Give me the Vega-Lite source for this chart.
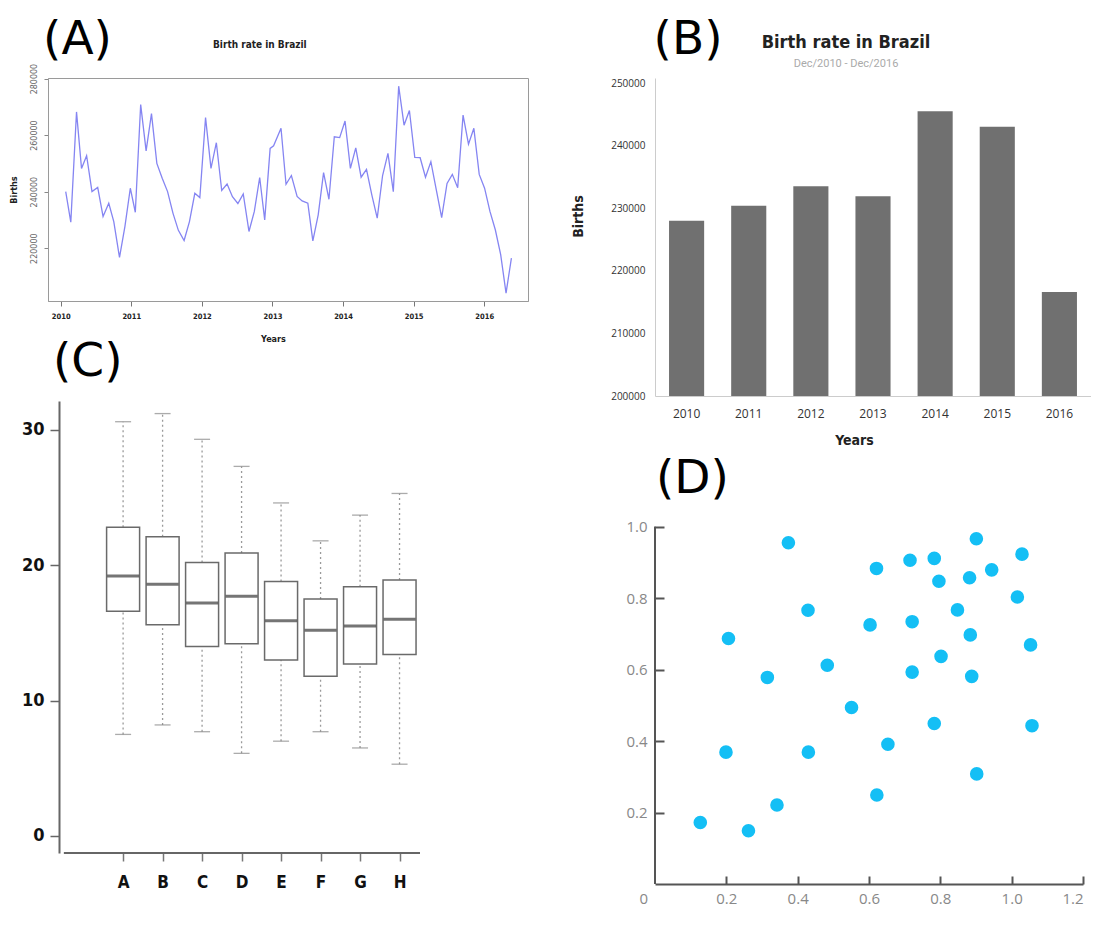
{
  "$schema": "https://vega.github.io/schema/vega-lite/v6.json",
  "background": "white",
  "autosize": {"type": "pad"},
  "padding": {"left": 8, "top": 15, "right": 0, "bottom": 0},
  "config": {"font": "DejaVu Sans", "view": {"stroke": null}},
  "datasets": {
    "birthsMonthly": [
      {"t": 2010.071, "births": 240000}, {"t": 2010.143, "births": 229200}, {"t": 2010.224, "births": 268200},
      {"t": 2010.295, "births": 248200}, {"t": 2010.367, "births": 252700}, {"t": 2010.443, "births": 240000},
      {"t": 2010.524, "births": 241500}, {"t": 2010.6, "births": 231200}, {"t": 2010.681, "births": 235900},
      {"t": 2010.752, "births": 229400}, {"t": 2010.833, "births": 216700}, {"t": 2010.91, "births": 227700},
      {"t": 2010.986, "births": 241200}, {"t": 2011.057, "births": 232700}, {"t": 2011.133, "births": 270800},
      {"t": 2011.21, "births": 254400}, {"t": 2011.286, "births": 267600}, {"t": 2011.362, "births": 250000},
      {"t": 2011.438, "births": 244700}, {"t": 2011.514, "births": 240000}, {"t": 2011.59, "births": 232400},
      {"t": 2011.667, "births": 226300}, {"t": 2011.748, "births": 222700}, {"t": 2011.824, "births": 229400},
      {"t": 2011.9, "births": 239400}, {"t": 2011.971, "births": 237900}, {"t": 2012.052, "births": 266200},
      {"t": 2012.129, "births": 248200}, {"t": 2012.205, "births": 257300}, {"t": 2012.281, "births": 240400},
      {"t": 2012.357, "births": 242700}, {"t": 2012.433, "births": 238200}, {"t": 2012.51, "births": 235800},
      {"t": 2012.586, "births": 239200}, {"t": 2012.667, "births": 225900}, {"t": 2012.743, "births": 233000},
      {"t": 2012.819, "births": 245000}, {"t": 2012.89, "births": 230000}, {"t": 2012.967, "births": 255300},
      {"t": 2013.016, "births": 256200}, {"t": 2013.121, "births": 262400}, {"t": 2013.192, "births": 242600},
      {"t": 2013.268, "births": 245700}, {"t": 2013.349, "births": 238300}, {"t": 2013.42, "births": 236700},
      {"t": 2013.501, "births": 235900}, {"t": 2013.572, "births": 222600}, {"t": 2013.648, "births": 231800},
      {"t": 2013.724, "births": 246700}, {"t": 2013.8, "births": 237300}, {"t": 2013.876, "births": 259400},
      {"t": 2013.952, "births": 259100}, {"t": 2014.028, "births": 265000}, {"t": 2014.104, "births": 248200},
      {"t": 2014.18, "births": 255500}, {"t": 2014.256, "births": 245100}, {"t": 2014.332, "births": 247900},
      {"t": 2014.408, "births": 238800}, {"t": 2014.484, "births": 230600}, {"t": 2014.56, "births": 245700},
      {"t": 2014.636, "births": 253500}, {"t": 2014.712, "births": 240000}, {"t": 2014.788, "births": 277300},
      {"t": 2014.864, "births": 263500}, {"t": 2014.94, "births": 268700}, {"t": 2015.016, "births": 252100},
      {"t": 2015.092, "births": 252000}, {"t": 2015.168, "births": 245100}, {"t": 2015.244, "births": 250600},
      {"t": 2015.321, "births": 240600}, {"t": 2015.397, "births": 230800}, {"t": 2015.473, "births": 242900},
      {"t": 2015.548, "births": 246100}, {"t": 2015.624, "births": 241400}, {"t": 2015.7, "births": 267100},
      {"t": 2015.777, "births": 256800}, {"t": 2015.853, "births": 262400}, {"t": 2015.929, "births": 246100},
      {"t": 2016.005, "births": 241200}, {"t": 2016.081, "births": 233000}, {"t": 2016.157, "births": 226500},
      {"t": 2016.233, "births": 217700}, {"t": 2016.309, "births": 204100}, {"t": 2016.385, "births": 216500}
    ],
    "birthsYearly": [
      {"year": "2010", "births": 228000}, {"year": "2011", "births": 230400}, {"year": "2012", "births": 233500},
      {"year": "2013", "births": 231900}, {"year": "2014", "births": 245500}, {"year": "2015", "births": 243000},
      {"year": "2016", "births": 216600}
    ],
    "boxStats": [
      {"group": "A", "idx": 1, "lower": 7.5, "q1": 16.6, "median": 19.2, "q3": 22.8, "upper": 30.6},
      {"group": "B", "idx": 2, "lower": 8.2, "q1": 15.6, "median": 18.6, "q3": 22.1, "upper": 31.2},
      {"group": "C", "idx": 3, "lower": 7.7, "q1": 14.0, "median": 17.2, "q3": 20.2, "upper": 29.3},
      {"group": "D", "idx": 4, "lower": 6.1, "q1": 14.2, "median": 17.7, "q3": 20.9, "upper": 27.3},
      {"group": "E", "idx": 5, "lower": 7.0, "q1": 13.0, "median": 15.9, "q3": 18.8, "upper": 24.6},
      {"group": "F", "idx": 6, "lower": 7.7, "q1": 11.8, "median": 15.2, "q3": 17.5, "upper": 21.8},
      {"group": "G", "idx": 7, "lower": 6.5, "q1": 12.7, "median": 15.5, "q3": 18.4, "upper": 23.7},
      {"group": "H", "idx": 8, "lower": 5.3, "q1": 13.4, "median": 16.0, "q3": 18.9, "upper": 25.3}
    ],
    "scatter": [
      {"x": 0.374, "y": 0.955}, {"x": 0.621, "y": 0.883}, {"x": 0.715, "y": 0.906}, {"x": 0.783, "y": 0.911},
      {"x": 0.901, "y": 0.966}, {"x": 1.029, "y": 0.923}, {"x": 0.944, "y": 0.879}, {"x": 0.882, "y": 0.857},
      {"x": 0.796, "y": 0.847}, {"x": 1.016, "y": 0.803}, {"x": 0.429, "y": 0.766}, {"x": 0.848, "y": 0.767},
      {"x": 0.603, "y": 0.725}, {"x": 0.721, "y": 0.734}, {"x": 0.206, "y": 0.687}, {"x": 0.884, "y": 0.697},
      {"x": 1.053, "y": 0.669}, {"x": 0.483, "y": 0.612}, {"x": 0.802, "y": 0.637}, {"x": 0.315, "y": 0.578},
      {"x": 0.721, "y": 0.593}, {"x": 0.888, "y": 0.581}, {"x": 0.551, "y": 0.494}, {"x": 0.783, "y": 0.449},
      {"x": 1.057, "y": 0.443}, {"x": 0.199, "y": 0.369}, {"x": 0.43, "y": 0.369}, {"x": 0.653, "y": 0.391},
      {"x": 0.902, "y": 0.308}, {"x": 0.622, "y": 0.249}, {"x": 0.342, "y": 0.221}, {"x": 0.127, "y": 0.172},
      {"x": 0.262, "y": 0.149}
    ]
  },
  "bounds": "flush",
  "align": "each",
  "columns": 2,
  "spacing": {"row": 5, "column": 127},
  "concat": [
    {
      "width": 480,
      "height": 223,
      "view": {"stroke": "#9a9a9a", "strokeWidth": 1},
      "title": {"text": "Birth rate in Brazil", "anchor": "start", "frame": "group", "dx": 165, "font": "DejaVu Sans Condensed", "fontSize": 10, "fontWeight": "bold", "color": "#222", "offset": -34},
      "layer": [
        {
          "data": {"name": "birthsMonthly"},
          "mark": {"type": "line", "color": "#8585f2", "strokeWidth": 1.3},
          "encoding": {
            "x": {
              "field": "t", "type": "quantitative",
              "scale": {"domain": [2009.82, 2016.62], "nice": false, "zero": false},
              "axis": {
                "values": [2010, 2011, 2012, 2013, 2014, 2015, 2016], "format": "d", "grid": false,
                "title": "Years", "titleFont": "DejaVu Sans Condensed", "titleFontSize": 9, "titleFontWeight": "bold", "titleColor": "#222", "titlePadding": 15, "titleX": 225,
                "labelFont": "DejaVu Sans Condensed", "labelFontWeight": "bold", "labelFontSize": 7.5, "labelColor": "#222", "labelPadding": 6,
                "tickSize": 5, "tickColor": "#777", "domainColor": "#9a9a9a"
              }
            },
            "y": {
              "field": "births", "type": "quantitative",
              "scale": {"domain": [201300, 280200], "nice": false, "zero": false},
              "axis": {
                "values": [220000, 240000, 260000, 280000], "format": "d", "grid": false,
                "labelAngle": -90, "labelAlign": "center", "labelBaseline": "bottom", "labelFontSize": 8, "labelColor": "#666", "labelPadding": 6,
                "tickSize": 4, "tickColor": "#888", "domainColor": "#9a9a9a",
                "title": "Births", "titleFont": "DejaVu Sans Condensed", "titleFontSize": 9, "titleFontWeight": "bold", "titleColor": "#222", "titlePadding": 12
              }
            }
          }
        },
        {
          "data": {"values": [{"panel": "(A)"}]},
          "mark": {"type": "text", "font": "DejaVu Sans", "fontSize": 47, "color": "#000", "align": "left", "baseline": "alphabetic"},
          "encoding": {
            "text": {"field": "panel"},
            "x": {"datum": 2009.75},
            "y": {"datum": 288700}
          }
        }
      ]
    },
    {
      "width": 436,
      "height": 318,
      "title": {
        "text": "Birth rate in Brazil", "subtitle": "Dec/2010 - Dec/2016",
        "anchor": "middle", "frame": "group", "dx": -27, "offset": -53,
        "font": "DejaVu Sans Condensed", "fontSize": 18, "fontWeight": "bold", "color": "#222",
        "subtitleFont": "Roboto", "subtitleFontSize": 11, "subtitleColor": "#aaa", "subtitlePadding": 6
      },
      "layer": [
        {
          "data": {"name": "birthsYearly"},
          "mark": {"type": "bar", "color": "#707070"},
          "encoding": {
            "x": {
              "field": "year", "type": "ordinal",
              "scale": {"paddingInner": 0.435, "paddingOuter": 0.226},
              "axis": {
                "labelAngle": 0, "ticks": false, "domainColor": "#cccccc",
                "labelFont": "Open Sans", "labelFontSize": 12, "labelColor": "#333", "labelPadding": 12,
                "title": "Years", "titleFont": "DejaVu Sans Condensed", "titleFontSize": 14, "titleFontWeight": "bold", "titleColor": "#222", "titlePadding": 14, "titleX": 199
              }
            },
            "y": {
              "field": "births", "type": "quantitative",
              "scale": {"domain": [200000, 250800], "nice": false, "zero": false},
              "axis": {
                "values": [200000, 210000, 220000, 230000, 240000, 250000], "format": "d",
                "ticks": false, "grid": false, "domainColor": "#cccccc",
                "labelFont": "Open Sans", "labelFontSize": 10, "labelColor": "#333", "labelPadding": 10,
                "title": "Births", "titleFont": "DejaVu Sans Condensed", "titleFontSize": 14, "titleFontWeight": "bold", "titleColor": "#222", "titlePadding": 25, "titleY": 138
              }
            },
            "y2": {"datum": 200000}
          }
        },
        {
          "data": {"values": [{"panel": "(B)"}]},
          "mark": {"type": "text", "font": "DejaVu Sans", "fontSize": 47, "color": "#000", "align": "left", "baseline": "alphabetic", "dx": -33},
          "encoding": {
            "text": {"field": "panel"},
            "x": {"datum": "2010"},
            "y": {"datum": 254634}
          }
        }
      ]
    },
    {
      "width": 377,
      "height": 452,
      "layer": [
        {
          "data": {"name": "boxStats"},
          "encoding": {
            "x": {
              "field": "idx", "type": "quantitative",
              "scale": {"domain": [-0.775, 8.518], "nice": false, "zero": false},
              "axis": {
                "values": [1, 2, 3, 4, 5, 6, 7, 8],
                "labelExpr": "['', 'A', 'B', 'C', 'D', 'E', 'F', 'G', 'H'][datum.value]",
                "domain": false, "grid": false, "title": null,
                "tickSize": 8, "tickColor": "#777", "tickWidth": 1.5,
                "labelFont": "DejaVu Sans Condensed", "labelFontWeight": "bold", "labelFontSize": 17, "labelColor": "#111", "labelPadding": 13
              }
            }
          },
          "layer": [
            {
              "mark": {"type": "rule", "color": "#9a9a9a", "strokeDash": [2, 3], "strokeWidth": 1.3},
              "encoding": {
                "y": {"field": "lower", "type": "quantitative", "scale": {"domain": [-1.26, 32.13], "nice": false, "zero": false},
                  "axis": {
                    "values": [0, 10, 20, 30], "grid": false, "title": null, "offset": -11,
                    "tickSize": 9, "tickColor": "#666", "tickWidth": 1.5, "domainColor": "#666", "domainWidth": 2,
                    "labelFont": "DejaVu Sans Condensed", "labelFontWeight": "bold", "labelFontSize": 18, "labelColor": "#111", "labelPadding": 6
                  }
                },
                "y2": {"field": "q1"}
              }
            },
            {
              "mark": {"type": "rule", "color": "#9a9a9a", "strokeDash": [2, 3], "strokeWidth": 1.3},
              "encoding": {"y": {"field": "q3", "type": "quantitative"}, "y2": {"field": "upper"}}
            },
            {
              "mark": {"type": "tick", "orient": "horizontal", "size": 16, "thickness": 1.3, "color": "#888"},
              "encoding": {"y": {"field": "lower", "type": "quantitative"}}
            },
            {
              "mark": {"type": "tick", "orient": "horizontal", "size": 16, "thickness": 1.3, "color": "#888"},
              "encoding": {"y": {"field": "upper", "type": "quantitative"}}
            },
            {
              "mark": {"type": "bar", "orient": "vertical", "size": 33, "fill": "white", "stroke": "#6a6a6a", "strokeWidth": 1.5},
              "encoding": {"y": {"field": "q1", "type": "quantitative"}, "y2": {"field": "q3"}}
            },
            {
              "mark": {"type": "tick", "orient": "horizontal", "size": 32, "thickness": 3, "color": "#3a3a3a"},
              "encoding": {"y": {"field": "median", "type": "quantitative"}}
            }
          ]
        },
        {
          "data": {"values": [{}]},
          "mark": {"type": "rule", "color": "#666", "strokeWidth": 2},
          "encoding": {"x": {"datum": -0.5}, "x2": {"datum": 8.518}, "y": {"datum": -1.26}}
        },
        {
          "data": {"values": [{"panel": "(C)"}]},
          "mark": {"type": "text", "font": "DejaVu Sans", "fontSize": 47, "color": "#000", "align": "left", "baseline": "alphabetic"},
          "encoding": {
            "text": {"field": "panel"},
            "x": {"datum": -0.775},
            "y": {"datum": 33.98}
          }
        }
      ]
    },
    {
      "width": 428,
      "height": 483,
      "layer": [
        {
          "data": {"name": "scatter"},
          "mark": {"type": "circle", "size": 185, "color": "#14bff5", "opacity": 1},
          "encoding": {
            "x": {
              "field": "x", "type": "quantitative",
              "scale": {"domain": [0, 1.2], "nice": false, "zero": false},
              "axis": {
                "values": [0, 0.2, 0.4, 0.6, 0.8, 1.0, 1.2],
                "labelExpr": "datum.value == 0 ? '0' : format(datum.value, '.1f')",
                "grid": false, "title": null,
                "domainColor": "#555", "domainWidth": 2,
                "tickColor": "#555", "tickWidth": 2, "tickSize": -8,
                "tickOpacity": {"condition": {"test": "datum.value == 0", "value": 0}, "value": 1},
                "labelOffset": {"condition": {"test": "datum.value == 0", "value": -16}, "value": 0},
                "labelFont": "Open Sans", "labelFontSize": 15, "labelColor": "#888", "labelPadding": 15
              }
            },
            "y": {
              "field": "y", "type": "quantitative",
              "scale": {"domain": [0, 1.3515], "nice": false, "zero": false},
              "axis": {
                "values": [0.2, 0.4, 0.6, 0.8, 1.0], "format": ".1f",
                "grid": false, "title": null, "domain": false,
                "tickColor": "#555", "tickWidth": 2, "tickSize": -9,
                "labelFont": "Open Sans", "labelFontSize": 15, "labelColor": "#888", "labelPadding": 17
              }
            }
          }
        },
        {
          "data": {"values": [{}]},
          "mark": {"type": "rule", "color": "#555", "strokeWidth": 2},
          "encoding": {"x": {"datum": 0}, "y": {"datum": 0}, "y2": {"datum": 1.0}}
        },
        {
          "data": {"values": [{"panel": "(D)"}]},
          "mark": {"type": "text", "font": "DejaVu Sans", "fontSize": 47, "color": "#000", "align": "left", "baseline": "alphabetic", "dx": 1},
          "encoding": {
            "text": {"field": "panel"},
            "x": {"datum": 0},
            "y": {"datum": 1.094}
          }
        }
      ]
    }
  ]
}
